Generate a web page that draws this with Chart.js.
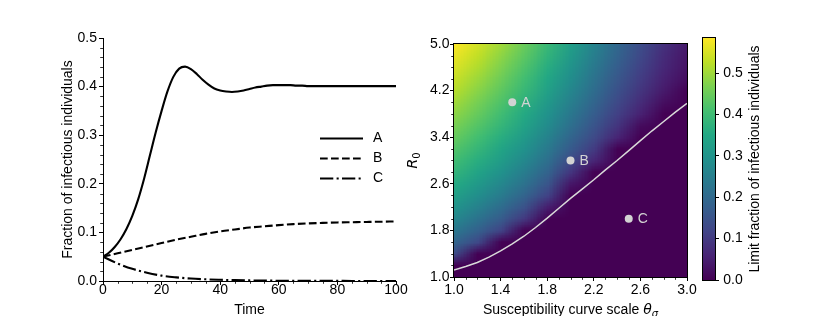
<!DOCTYPE html>
<html>
<head>
<meta charset="utf-8">
<script src="https://cdn.jsdelivr.net/npm/chart.js@4.4.1/dist/chart.umd.min.js"></script>
<style>
  html, body { margin:0; padding:0; background:#fff; }
  #wrap { position:relative; width:830px; height:316px; overflow:hidden; background:#fff; }
  canvas { position:absolute; top:0; }
</style>
</head>
<body>
<div id="wrap">
  <canvas id="timeChart" width="415" height="316" style="left:0px"></canvas>
  <canvas id="mapChart" width="295" height="316" style="left:405px"></canvas>
  <canvas id="barChart" width="130" height="316" style="left:700px"></canvas>
</div>
<script>

// ======================================
// Data: time series (left panel)
// ======================================

const seriesLabels = ["A", "B", "C"];

const timeA = [
    0, 2, 4, 6, 8, 10, 12, 14, 16, 18, 20, 22, 24, 26, 28, 30, 32, 34,
    36, 38, 40, 42, 44, 46, 48, 50, 52, 54, 56, 58, 60, 62, 64, 66, 68, 70,
    75, 80, 85, 90, 95, 100
];

const seriesA = [
    0.050, 0.058, 0.070, 0.086, 0.107, 0.134, 0.168, 0.210, 0.258, 0.306,
    0.350, 0.390, 0.420, 0.437, 0.441, 0.436, 0.426, 0.414, 0.404, 0.396,
    0.392, 0.390, 0.389, 0.390, 0.392, 0.395, 0.398, 0.400, 0.402, 0.403,
    0.403, 0.403, 0.403, 0.402, 0.402, 0.401,
    0.401, 0.401, 0.401, 0.401, 0.401, 0.401
];

const timeBC = [
    0, 5, 10, 15, 20, 25, 30, 35, 40, 45, 50,
    55, 60, 65, 70, 75, 80, 85, 90, 95, 100
];

const seriesB = [
    0.050, 0.057, 0.064, 0.071, 0.078, 0.085, 0.091, 0.097, 0.102, 0.106, 0.110,
    0.1125, 0.115, 0.117, 0.1185, 0.1195, 0.1205, 0.121, 0.1215, 0.122, 0.1225
];

const seriesC = [
    0.050, 0.036, 0.025, 0.017, 0.011, 0.0075, 0.005, 0.0035, 0.0025, 0.0017, 0.0012,
    0.0009, 0.0006, 0.0004, 0.0003, 0.0002, 0.0002, 0.0001, 0.0001, 0.0001, 0.0001
];

// ======================================
// Data: limit fraction map (right panel)
// rows = R0 from 1.0 up to 5.0, columns = theta from 1.0 to 3.0
// ======================================

const thetaGrid = [1.0, 1.2, 1.4, 1.6, 1.8, 2.0, 2.2, 2.4, 2.6, 2.8, 3.0];

const r0Grid = [
    1.0, 1.2, 1.4, 1.6, 1.8, 2.0, 2.2, 2.4, 2.6, 2.8, 3.0,
    3.2, 3.4, 3.6, 3.8, 4.0, 4.2, 4.4, 4.6, 4.8, 5.0
];

const limitFraction = [
    [0,     0,     0,     0,     0,     0,     0,     0,     0,     0,     0    ],
    [0,     0,     0,     0,     0,     0,     0,     0,     0,     0,     0    ],
    [0.134, 0,     0,     0,     0,     0,     0,     0,     0,     0,     0    ],
    [0.190, 0.125, 0,     0,     0,     0,     0,     0,     0,     0,     0    ],
    [0.232, 0.180, 0.115, 0,     0,     0,     0,     0,     0,     0,     0    ],
    [0.268, 0.221, 0.168, 0.095, 0,     0,     0,     0,     0,     0,     0    ],
    [0.300, 0.256, 0.207, 0.148, 0.046, 0,     0,     0,     0,     0,     0    ],
    [0.329, 0.286, 0.240, 0.187, 0.113, 0,     0,     0,     0,     0,     0    ],
    [0.355, 0.314, 0.269, 0.219, 0.153, 0.035, 0,     0,     0,     0,     0    ],
    [0.380, 0.339, 0.295, 0.246, 0.185, 0.090, 0,     0,     0,     0,     0    ],
    [0.403, 0.363, 0.320, 0.271, 0.212, 0.128, 0.062, 0,     0,     0,     0    ],
    [0.424, 0.385, 0.342, 0.294, 0.236, 0.165, 0.101, 0,     0,     0,     0    ],
    [0.445, 0.406, 0.363, 0.315, 0.258, 0.190, 0.129, 0.059, 0,     0,     0    ],
    [0.465, 0.426, 0.383, 0.335, 0.278, 0.212, 0.152, 0.088, 0.016, 0,     0    ],
    [0.484, 0.445, 0.402, 0.354, 0.296, 0.232, 0.171, 0.110, 0.053, 0,     0    ],
    [0.502, 0.463, 0.420, 0.372, 0.314, 0.250, 0.189, 0.128, 0.073, 0.022, 0    ],
    [0.520, 0.480, 0.437, 0.388, 0.331, 0.267, 0.205, 0.144, 0.089, 0.041, 0    ],
    [0.537, 0.497, 0.453, 0.405, 0.346, 0.283, 0.220, 0.158, 0.103, 0.053, 0.019],
    [0.553, 0.514, 0.470, 0.420, 0.361, 0.298, 0.234, 0.171, 0.114, 0.064, 0.028],
    [0.569, 0.530, 0.485, 0.435, 0.376, 0.312, 0.247, 0.184, 0.125, 0.072, 0.034],
    [0.585, 0.545, 0.500, 0.450, 0.390, 0.325, 0.260, 0.195, 0.135, 0.080, 0.040]
];

// white threshold curve
const contourTheta = [
    1.0, 1.1, 1.2, 1.3, 1.4, 1.5, 1.6, 1.7, 1.8, 1.9, 2.0,
    2.1, 2.2, 2.3, 2.4, 2.5, 2.6, 2.7, 2.8, 2.9, 3.0
];

const contourR0 = [
    1.12, 1.18, 1.25, 1.34, 1.45, 1.57, 1.70, 1.85, 2.01, 2.18, 2.35,
    2.51, 2.67, 2.84, 3.00, 3.17, 3.34, 3.51, 3.67, 3.83, 3.98
];

// marked parameter sets
const pointTheta = [1.5, 2.0, 2.5];
const pointR0 = [4.0, 3.0, 2.0];

const colorMax = Math.max(...limitFraction.flat());

// ======================================
// Shared style
// ======================================

const FONT = "'Liberation Sans', Arial, sans-serif";
const MATH = "'DejaVu Sans', sans-serif";

Chart.defaults.font.family = FONT;
Chart.defaults.font.size = 14;
Chart.defaults.color = "#000";

const viridisStops = [
    [68, 1, 84], [72, 36, 117], [65, 68, 135], [53, 95, 141],
    [42, 120, 142], [33, 145, 140], [34, 168, 132], [68, 191, 112],
    [122, 209, 81], [189, 223, 38], [253, 231, 37]
];

function viridis(t){

    t = Math.min(1, Math.max(0, t));

    const s = t * 10;
    const i = Math.min(9, Math.floor(s));
    const f = s - i;
    const a = viridisStops[i];
    const b = viridisStops[i + 1];

    return a.map((v, k) => Math.round(v + (b[k] - v) * f));

}

function axisStyle(){

    return {
        grid:{
            drawOnChartArea:false,
            tickLength:4,
            tickColor:"#000",
            tickWidth:1
        },
        border:{
            color:"#000",
            width:1
        }
    };

}

// ======================================
// Plugins
// ======================================

function minorTicks(stepX, stepY){

    return {

        id:"minorTicks",

        afterDraw(chart){

            const ctx = chart.ctx;
            const a = chart.chartArea;
            const sx = chart.scales.x;
            const sy = chart.scales.y;

            const isMajor = (scale, v) =>
                scale.ticks.some(t => Math.abs(t.value - v) < 1e-6);

            ctx.save();
            ctx.strokeStyle = "#000";
            ctx.lineWidth = 0.8;
            ctx.beginPath();

            for(let v = sx.min; v <= sx.max + 1e-9; v += stepX){
                if(isMajor(sx, v)) continue;
                const p = Math.round(sx.getPixelForValue(v)) + 0.5;
                ctx.moveTo(p, a.bottom);
                ctx.lineTo(p, a.bottom + 2.8);
            }

            for(let v = sy.min; v <= sy.max + 1e-9; v += stepY){
                if(isMajor(sy, v)) continue;
                const p = Math.round(sy.getPixelForValue(v)) + 0.5;
                ctx.moveTo(a.left, p);
                ctx.lineTo(a.left - 2.8, p);
            }

            ctx.stroke();
            ctx.restore();

        }

    };

}

const lineLegend = {

    id:"lineLegend",

    afterDraw(chart){

        const ctx = chart.ctx;

        ctx.save();

        chart.data.datasets.forEach((ds, i) => {

            const y = 138.5 + i * 20;

            ctx.beginPath();
            ctx.setLineDash(ds.borderDash || []);
            ctx.lineWidth = ds.borderWidth;
            ctx.strokeStyle = ds.borderColor;
            ctx.moveTo(320, y);
            ctx.lineTo(363, y);
            ctx.stroke();

            ctx.setLineDash([]);
            ctx.fillStyle = "#000";
            ctx.font = "14px " + FONT;
            ctx.textBaseline = "middle";
            ctx.textAlign = "left";
            ctx.fillText(ds.label, 373, y);

        });

        ctx.restore();

    }

};

const heatmap = {

    id:"heatmap",

    beforeDatasetsDraw(chart){

        const {ctx, chartArea:a, scales:{x, y}} = chart;

        const nx = thetaGrid.length;
        const ny = r0Grid.length;

        const img = document.createElement("canvas");
        img.width = nx;
        img.height = ny;

        const ic = img.getContext("2d");
        const pix = ic.createImageData(nx, ny);

        for(let j = 0; j < ny; j++){
            const row = limitFraction[ny - 1 - j];
            for(let i = 0; i < nx; i++){
                const c = viridis(row[i] / colorMax);
                const k = (j * nx + i) * 4;
                pix.data[k] = c[0];
                pix.data[k + 1] = c[1];
                pix.data[k + 2] = c[2];
                pix.data[k + 3] = 255;
            }
        }

        ic.putImageData(pix, 0, 0);

        const dT = thetaGrid[1] - thetaGrid[0];
        const dR = r0Grid[1] - r0Grid[0];

        const left = x.getPixelForValue(thetaGrid[0] - dT / 2);
        const right = x.getPixelForValue(thetaGrid[nx - 1] + dT / 2);
        const top = y.getPixelForValue(r0Grid[ny - 1] + dR / 2);
        const bottom = y.getPixelForValue(r0Grid[0] - dR / 2);

        ctx.save();
        ctx.beginPath();
        ctx.rect(a.left, a.top, a.right - a.left, a.bottom - a.top);
        ctx.clip();
        ctx.imageSmoothingEnabled = true;
        ctx.imageSmoothingQuality = "low";
        ctx.drawImage(img, left, top, right - left, bottom - top);
        ctx.restore();

    },

    afterDatasetsDraw(chart){

        const ctx = chart.ctx;
        const meta = chart.getDatasetMeta(1);

        ctx.save();
        ctx.fillStyle = "#d3d3d3";
        ctx.font = "14px " + FONT;
        ctx.textBaseline = "middle";
        ctx.textAlign = "left";

        meta.data.forEach((pt, i) => {
            ctx.fillText(seriesLabels[i], pt.x + 9, pt.y + 0.5);
        });

        ctx.restore();

    },

    afterDraw(chart){

        const ctx = chart.ctx;
        const a = chart.chartArea;

        ctx.save();
        ctx.strokeStyle = "#000";
        ctx.lineWidth = 1;
        ctx.strokeRect(a.left - 0.5, a.top - 0.5, a.right - a.left + 1, a.bottom - a.top + 1);

        // x title with math part
        drawParts(ctx, (a.left + a.right) / 2, 308.5, 0, [
            {text:"Susceptibility curve scale ", font:"14px " + FONT},
            {text:"\u03b8", font:"italic 14px " + MATH},
            {text:"\u03c3", font:"italic 10px " + MATH, dy:3}
        ]);

        // y title R0
        drawParts(ctx, 7, (a.top + a.bottom) / 2, -Math.PI / 2, [
            {text:"R", font:"italic 14px " + MATH},
            {text:"0", font:"10px " + MATH, dy:3}
        ]);

        ctx.restore();

    }

};

function drawParts(ctx, cx, cy, rot, parts){

    ctx.save();
    ctx.translate(cx, cy);
    ctx.rotate(rot);
    ctx.fillStyle = "#000";
    ctx.textBaseline = "alphabetic";
    ctx.textAlign = "left";

    let total = 0;
    parts.forEach(p => {
        ctx.font = p.font;
        p.w = ctx.measureText(p.text).width;
        total += p.w;
    });

    let x = -total / 2;
    parts.forEach(p => {
        ctx.font = p.font;
        ctx.fillText(p.text, x, 5 + (p.dy || 0));
        x += p.w;
    });

    ctx.restore();

}

const colorBar = {

    id:"colorBar",

    beforeDatasetsDraw(chart){

        const ctx = chart.ctx;
        const a = chart.chartArea;

        const g = ctx.createLinearGradient(0, a.bottom, 0, a.top);
        viridisStops.forEach((c, i) => {
            g.addColorStop(i / 10, "rgb(" + c.join(",") + ")");
        });

        ctx.save();
        ctx.fillStyle = g;
        ctx.fillRect(a.left, a.top, a.right - a.left, a.bottom - a.top);
        ctx.strokeStyle = "#000";
        ctx.lineWidth = 1;
        ctx.strokeRect(a.left - 0.5, a.top - 0.5, a.right - a.left + 1, a.bottom - a.top + 1);
        ctx.restore();

        drawParts(ctx, 53.5, (a.top + a.bottom) / 2, -Math.PI / 2, [
            {text:"Limit fraction of infectious individuals", font:"14px " + FONT}
        ]);

    }

};

// ======================================
// Left panel: time series
// ======================================

function toPoints(xs, ys){

    return xs.map((x, i) => ({x:x, y:ys[i]}));

}

function createTimeChart(){

    const ctx = document.getElementById("timeChart");

    const base = {
        borderColor:"#000",
        borderWidth:2.1,
        pointRadius:0,
        fill:false,
        clip:0,
        cubicInterpolationMode:"monotone"
    };

    new Chart(ctx, {

        type:"line",

        data:{
            datasets:[
                Object.assign({label:seriesLabels[0], data:toPoints(timeA, seriesA), borderDash:[]}, base),
                Object.assign({label:seriesLabels[1], data:toPoints(timeBC, seriesB), borderDash:[7.7, 3.3]}, base),
                Object.assign({label:seriesLabels[2], data:toPoints(timeBC, seriesC), borderDash:[13.3, 3.3, 2.1, 3.3]}, base)
            ]
        },

        options:{
            responsive:false,
            animation:false,
            events:[],
            layout:{ padding:{ top:38, right:19, left:0, bottom:0 } },
            plugins:{
                legend:{ display:false },
                tooltip:{ enabled:false }
            },
            scales:{
                x:Object.assign(axisStyle(), {
                    type:"linear",
                    min:0,
                    max:100,
                    ticks:{
                        stepSize:20,
                        autoSkip:false,
                        maxRotation:0,
                        padding:-3,
                        color:"#000"
                    },
                    title:{
                        display:true,
                        text:"Time",
                        color:"#000",
                        padding:{ top:0, bottom:-2.4 }
                    },
                    afterFit:s => { s.height = 35; }
                }),
                y:Object.assign(axisStyle(), {
                    min:0,
                    max:0.5,
                    ticks:{
                        stepSize:0.1,
                        autoSkip:false,
                        padding:2,
                        color:"#000",
                        callback:v => v.toFixed(1)
                    },
                    title:{
                        display:true,
                        text:"Fraction of infectious individuals",
                        color:"#000",
                        padding:{ top:60, bottom:0 }
                    },
                    afterFit:s => { s.width = 103; }
                })
            }
        },

        plugins:[minorTicks(5, 0.02), lineLegend]

    });

}

// ======================================
// Right panel: parameter map
// ======================================

function createMapChart(){

    const ctx = document.getElementById("mapChart");

    new Chart(ctx, {

        type:"scatter",

        data:{
            datasets:[
                {
                    type:"line",
                    data:toPoints(contourTheta, contourR0),
                    borderColor:"#d9d9d9",
                    borderWidth:1.5,
                    pointRadius:0,
                    clip:0
                },
                {
                    data:toPoints(pointTheta, pointR0),
                    pointRadius:4,
                    pointBackgroundColor:"#d3d3d3",
                    pointBorderWidth:0,
                    showLine:false
                }
            ]
        },

        options:{
            responsive:false,
            animation:false,
            events:[],
            layout:{ padding:{ top:44, right:13, left:0, bottom:0 } },
            plugins:{
                legend:{ display:false },
                tooltip:{ enabled:false }
            },
            scales:{
                x:Object.assign(axisStyle(), {
                    type:"linear",
                    min:1,
                    max:3,
                    ticks:{
                        stepSize:0.4,
                        autoSkip:false,
                        maxRotation:0,
                        padding:0.6,
                        color:"#000",
                        callback:v => v.toFixed(1)
                    },
                    afterFit:s => { s.height = 39; }
                }),
                y:Object.assign(axisStyle(), {
                    min:1,
                    max:5,
                    ticks:{
                        stepSize:0.8,
                        autoSkip:false,
                        padding:0.5,
                        color:"#000",
                        callback:v => v.toFixed(1)
                    },
                    afterFit:s => { s.width = 49; }
                })
            }
        },

        plugins:[heatmap, minorTicks(0.1, 0.2)]

    });

}

// ======================================
// Colour bar
// ======================================

function createColorBar(){

    const ctx = document.getElementById("barChart");

    new Chart(ctx, {

        type:"scatter",

        data:{ datasets:[] },

        options:{
            responsive:false,
            animation:false,
            events:[],
            layout:{ padding:{ top:38, right:0, left:3, bottom:36 } },
            plugins:{
                legend:{ display:false },
                tooltip:{ enabled:false }
            },
            scales:{
                x:{ display:false, min:0, max:1 },
                y:Object.assign(axisStyle(), {
                    position:"right",
                    min:0,
                    max:colorMax,
                    ticks:{
                        stepSize:0.1,
                        autoSkip:false,
                        includeBounds:false,
                        padding:4.3,
                        color:"#000",
                        callback:v => v.toFixed(1)
                    },
                    afterFit:s => { s.width = 115; }
                })
            }
        },

        plugins:[colorBar]

    });

}

// ======================================

createTimeChart();
createMapChart();
createColorBar();

</script>
</body>
</html>
